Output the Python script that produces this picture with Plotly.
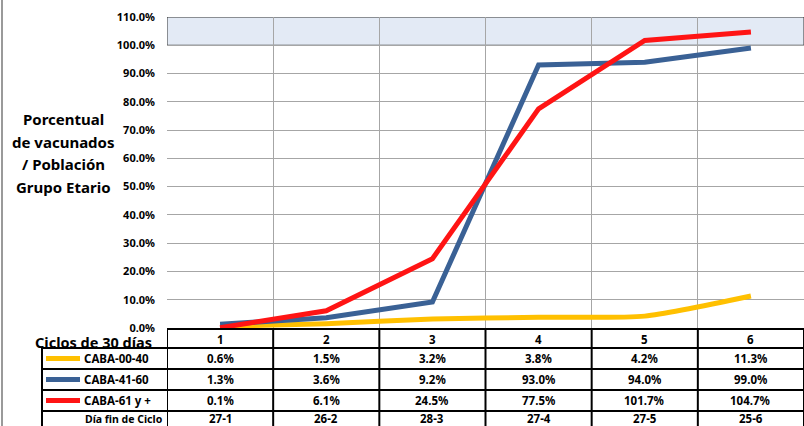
import plotly.graph_objects as go

ciclos = [1, 2, 3, 4, 5, 6]
dia_fin = ["27-1", "26-2", "28-3", "27-4", "27-5", "25-6"]
series_names = ["CABA-00-40", "CABA-41-60", "CABA-61 y +"]
caba_00_40 = [0.6, 1.5, 3.2, 3.8, 4.2, 11.3]
caba_41_60 = [1.3, 3.6, 9.2, 93.0, 94.0, 99.0]
caba_61 = [0.1, 6.1, 24.5, 77.5, 101.7, 104.7]
colors = ["#FFC000", "#3A6195", "#FF1414"]
y_title_lines = ["Porcentual", "de vacunados", "/ Población", "Grupo Etario"]

W, H = 804, 426
L, R, T, B = 167, 0, 17, 98
PW, PH = W - L - R, H - T - B
FONT = "Noto Sans"

def px(xp):
    return (xp - L) / PW

def py(yp):
    return (H - B - yp) / PH

fig = go.Figure()
all_series = [caba_00_40, caba_41_60, caba_61]
for name, vals, col in zip(series_names, all_series, colors):
    fig.add_trace(go.Scatter(
        x=ciclos, y=[v / 100 for v in vals], mode="lines", name=name,
        line=dict(color=col, width=5, shape="spline" if name == "CABA-00-40" else "linear", smoothing=0.6),
        showlegend=False, hoverinfo="skip"))

shapes = []
shapes.append(dict(type="rect", xref="x", yref="y", x0=0.5, x1=6.5, y0=1.0, y1=1.1,
                   fillcolor="#E3EAF5", line=dict(color="#333333", width=1), layer="below"))
shapes.append(dict(type="line", xref="paper", yref="paper", x0=px(2), x1=px(2), y0=py(0), y1=py(H),
                   line=dict(color="#9A9A9A", width=2)))

row_y = [329, 348, 369, 390, 411, 426]
text_y = [339, 358.5, 379.5, 400.5, 418.5]
black = dict(color="#000000", width=2)
shapes.append(dict(type="line", xref="paper", yref="paper", x0=0, x1=1, y0=py(row_y[0]), y1=py(row_y[0]), line=black))
for yy in row_y[1:5]:
    shapes.append(dict(type="line", xref="paper", yref="paper", x0=px(42), x1=1, y0=py(yy), y1=py(yy), line=black))
shapes.append(dict(type="line", xref="paper", yref="paper", x0=px(42), x1=px(42), y0=py(row_y[1]), y1=py(H), line=black))
for i in range(len(ciclos) + 1):
    xv = 0.5 + i
    shapes.append(dict(type="line", xref="x", yref="paper", x0=xv, x1=xv, y0=py(row_y[0]), y1=py(H), line=black))

annotations = []
tfont = dict(family=FONT, size=11.5, color="#000000", weight="bold")
for i, c in enumerate(ciclos):
    annotations.append(dict(x=c, y=py(text_y[0]), xref="x", yref="paper", text=str(c), showarrow=False,
                            xanchor="center", yanchor="middle", font=tfont))
    for r, vals in enumerate(all_series):
        annotations.append(dict(x=c, y=py(text_y[r + 1]), xref="x", yref="paper", text=f"{vals[i]:.1f}%",
                                showarrow=False, xanchor="center", yanchor="middle", font=tfont))
    annotations.append(dict(x=c, y=py(text_y[4]), xref="x", yref="paper", text=dia_fin[i], showarrow=False,
                            xanchor="center", yanchor="middle", font=tfont))

for r, (name, col) in enumerate(zip(series_names, colors)):
    yy = py(text_y[r + 1])
    shapes.append(dict(type="line", xref="paper", yref="paper", x0=px(46), x1=px(80), y0=yy, y1=yy,
                       line=dict(color=col, width=5)))
    annotations.append(dict(x=px(82), y=yy, xref="paper", yref="paper", text=name, showarrow=False,
                            xanchor="left", yanchor="middle", font=tfont))
annotations.append(dict(x=px(83), y=py(text_y[4]), xref="paper", yref="paper", text="Día fin de Ciclo",
                        showarrow=False, xanchor="left", yanchor="middle",
                        font=dict(family=FONT, size=10.5, color="#000", weight="bold")))
annotations.append(dict(x=px(154), y=py(342), xref="paper", yref="paper", text="Ciclos de 30 días",
                        showarrow=False, xanchor="right", yanchor="middle",
                        font=dict(family=FONT, size=14.5, color="#000", weight="bold")))
for k, line in enumerate(y_title_lines):
    annotations.append(dict(x=px(63), y=py(119 + 22.5 * k), xref="paper", yref="paper", text=line,
                            showarrow=False, xanchor="center", yanchor="middle",
                            font=dict(family=FONT, size=15, color="#000", weight="bold")))

fig.update_layout(
    width=W, height=H, margin=dict(l=L, r=R, t=T, b=B),
    paper_bgcolor="white", plot_bgcolor="white",
    shapes=shapes, annotations=annotations,
    xaxis=dict(range=[0.5, 6.5], tickvals=[0.5 + i for i in range(7)], showticklabels=False,
               showgrid=True, gridcolor="#A6A6A6", gridwidth=1, zeroline=False, showline=False, ticks=""),
    yaxis=dict(range=[0, 1.1], dtick=0.1, tickformat=".1%", showgrid=True, gridcolor="#A6A6A6",
               gridwidth=1, zeroline=False, showline=False, ticks="", ticklabelstandoff=11,
               tickfont=dict(family=FONT, size=11, color="#000", weight="bold")),
)
fig.write_html("out.html", config={"displayModeBar": False},
               post_script="document.body.style.margin='0';")
